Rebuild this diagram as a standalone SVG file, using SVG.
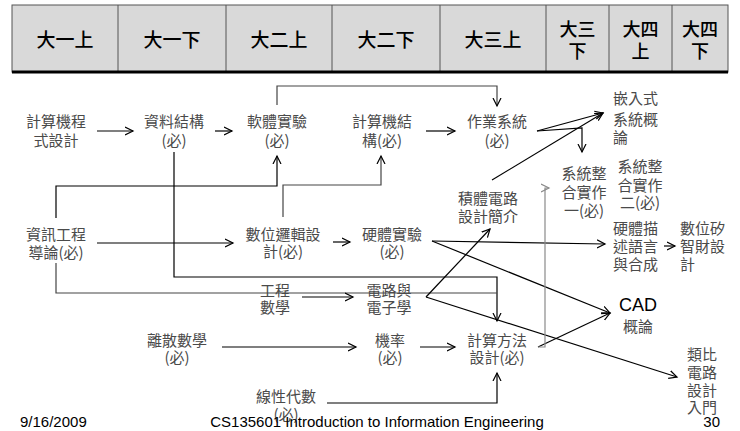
<svg xmlns="http://www.w3.org/2000/svg" width="740" height="431" viewBox="0 0 740 431">
<style>
.hd{font-family:"Noto Sans CJK TC","Noto Sans CJK SC",sans-serif;font-size:19px;font-weight:500;fill:#000;text-anchor:middle}
.hs{font-size:18px}
.n{font-family:"Noto Sans CJK TC","Noto Sans CJK SC",sans-serif;font-size:15px;fill:#4a4a4a;text-anchor:middle}
.l{text-anchor:start}
.en{font-family:"Liberation Sans",Arial,sans-serif;fill:#000}
.c{fill:none;stroke:#000;stroke-width:1.2}
.g{stroke:#444}
.lg{stroke:#8a8a8a}
</style>
<defs>
<marker id="a" markerUnits="userSpaceOnUse" markerWidth="10" markerHeight="10" refX="8" refY="4" orient="auto" viewBox="0 0 10 8">
<path d="M0,0 L8,4 L0,8" fill="none" stroke="#000" stroke-width="1.2"/>
</marker>
<marker id="ag" markerUnits="userSpaceOnUse" markerWidth="10" markerHeight="10" refX="8" refY="4" orient="auto" viewBox="0 0 10 8">
<path d="M0,0 L8,4 L0,8" fill="none" stroke="#8a8a8a" stroke-width="1.2"/>
</marker>
</defs>
<rect width="740" height="431" fill="#fff"/>
<g id="header">
<rect x="12" y="5" width="716" height="67" fill="#d9d9d9" stroke="#555" stroke-width="1"/>
<path d="M118,5V72M226,5V72M332,5V72M440,5V72M546,5V72M609,5V72M672,5V72" stroke="#555" stroke-width="1"/>
<line x1="12" y1="72" x2="728" y2="72" stroke="#000" stroke-width="3"/>
<text class="hd" x="65" y="47">大一上</text>
<text class="hd" x="172" y="47">大一下</text>
<text class="hd" x="279" y="47">大二上</text>
<text class="hd" x="386" y="47">大二下</text>
<text class="hd" x="493" y="47">大三上</text>
<text class="hd hs" x="577.5" y="36">大三</text><text class="hd hs" x="577.5" y="58">下</text>
<text class="hd hs" x="640.5" y="36">大四</text><text class="hd hs" x="640.5" y="58">上</text>
<text class="hd hs" x="700" y="36">大四</text><text class="hd hs" x="700" y="58">下</text>
</g>
<g id="connectors">
<path class="c" d="M97,131H133" marker-end="url(#a)"/>
<path class="c" d="M215,131H232" marker-end="url(#a)"/>
<path class="c g" d="M277,105V86H497V106" marker-end="url(#a)"/>
<path class="c" d="M426,131H455" marker-end="url(#a)"/>
<path class="c" d="M537,131L603,113" marker-end="url(#a)"/>
<path class="c" d="M537,131L582,128V152" marker-end="url(#a)"/>
<path class="c" d="M492,180L603,113" marker-end="url(#a)"/>
<path class="c" d="M56,218V186H277V156" marker-end="url(#a)"/>
<path class="c" d="M97,243H233" marker-end="url(#a)"/>
<path class="c g" d="M283,217V185H381V156" marker-end="url(#a)"/>
<path class="c" d="M333,242H350" marker-end="url(#a)"/>
<path class="c" d="M174,152V277H497V321" marker-end="url(#a)"/>
<path class="c g" d="M56,263V293H497"/>
<path class="c" d="M432,241L605,244" marker-end="url(#a)"/>
<path class="c" d="M432,241L610,313" marker-end="url(#a)"/>
<path class="c" d="M426,297L490,229" marker-end="url(#a)"/>
<path class="c" d="M426,297L677,377" marker-end="url(#a)"/>
<path class="c" d="M302,297H353" marker-end="url(#a)"/>
<path class="c" d="M222,347H356" marker-end="url(#a)"/>
<path class="c" d="M420,347H455" marker-end="url(#a)"/>
<path class="c" d="M327,403H497V373" marker-end="url(#a)"/>
<path class="c" d="M538,347L610,313" marker-end="url(#a)"/>
<path class="c lg" d="M538,347H545V188H549" marker-end="url(#ag)"/>
<path class="c" d="M664,246H675" marker-end="url(#a)"/>
</g>
<g id="n1"><text class="n" x="56" y="127">計算機程</text><text class="n" x="56" y="146">式設計</text></g>
<g id="n2"><text class="n" x="174" y="127">資料結構</text><text class="n" x="174" y="146">(必)</text></g>
<g id="n3"><text class="n" x="277" y="127">軟體實驗</text><text class="n" x="277" y="146">(必)</text></g>
<g id="n4"><text class="n" x="382" y="127">計算機結</text><text class="n" x="382" y="146">構(必)</text></g>
<g id="n5"><text class="n" x="497" y="127">作業系統</text><text class="n" x="497" y="146">(必)</text></g>
<g id="n6"><text class="n l" x="613" y="104">嵌入式</text><text class="n l" x="613" y="125">系統概</text><text class="n l" x="613" y="143">論</text></g>
<g id="n7"><text class="n" x="584" y="179">系統整</text><text class="n" x="584" y="198">合實作</text><text class="n" x="584" y="216">一(必)</text></g>
<g id="n8"><text class="n" x="640" y="172">系統整</text><text class="n" x="640" y="191">合實作</text><text class="n" x="640" y="208">二(必)</text></g>
<g id="n9"><text class="n" x="488" y="204">積體電路</text><text class="n" x="488" y="222">設計簡介</text></g>
<g id="n10"><text class="n" x="56" y="240">資訊工程</text><text class="n" x="56" y="258">導論(必)</text></g>
<g id="n11"><text class="n" x="283" y="240">數位邏輯設</text><text class="n" x="283" y="257">計(必)</text></g>
<g id="n12"><text class="n" x="392" y="240">硬體實驗</text><text class="n" x="392" y="257">(必)</text></g>
<g id="n13"><text class="n l" x="613" y="234">硬體描</text><text class="n l" x="613" y="252">述語言</text><text class="n l" x="613" y="270">與合成</text></g>
<g id="n14"><text class="n l" x="680" y="234">數位矽</text><text class="n l" x="680" y="252">智財設</text><text class="n l" x="680" y="270">計</text></g>
<g id="n15"><text class="n" x="275" y="296">工程</text><text class="n" x="275" y="313">數學</text></g>
<g id="n16"><text class="n" x="389" y="296">電路與</text><text class="n" x="389" y="313">電子學</text></g>
<g id="n17"><text class="en" x="638" y="311" font-size="18" text-anchor="middle">CAD</text><text class="n" x="638" y="332">概論</text></g>
<g id="n18"><text class="n" x="177" y="346">離散數學</text><text class="n" x="177" y="363">(必)</text></g>
<g id="n19"><text class="n" x="390" y="346">機率</text><text class="n" x="390" y="363">(必)</text></g>
<g id="n20"><text class="n" x="497" y="346">計算方法</text><text class="n" x="497" y="363">設計(必)</text></g>
<g id="n21"><text class="n l" x="687" y="360">類比</text><text class="n l" x="687" y="378">電路</text><text class="n l" x="687" y="396">設計</text><text class="n l" x="687" y="413">入門</text></g>
<g id="n22"><text class="n" x="286" y="402">線性代數</text><text class="n" x="286" y="420">(必)</text></g>
<g id="footer">
<text class="en" x="20" y="427" font-size="15">9/16/2009</text>
<text class="en" x="377" y="427" font-size="15" text-anchor="middle">CS135601 Introduction to Information Engineering</text>
<text class="en" x="720" y="427" font-size="15" text-anchor="end">30</text>
</g>
</svg>
